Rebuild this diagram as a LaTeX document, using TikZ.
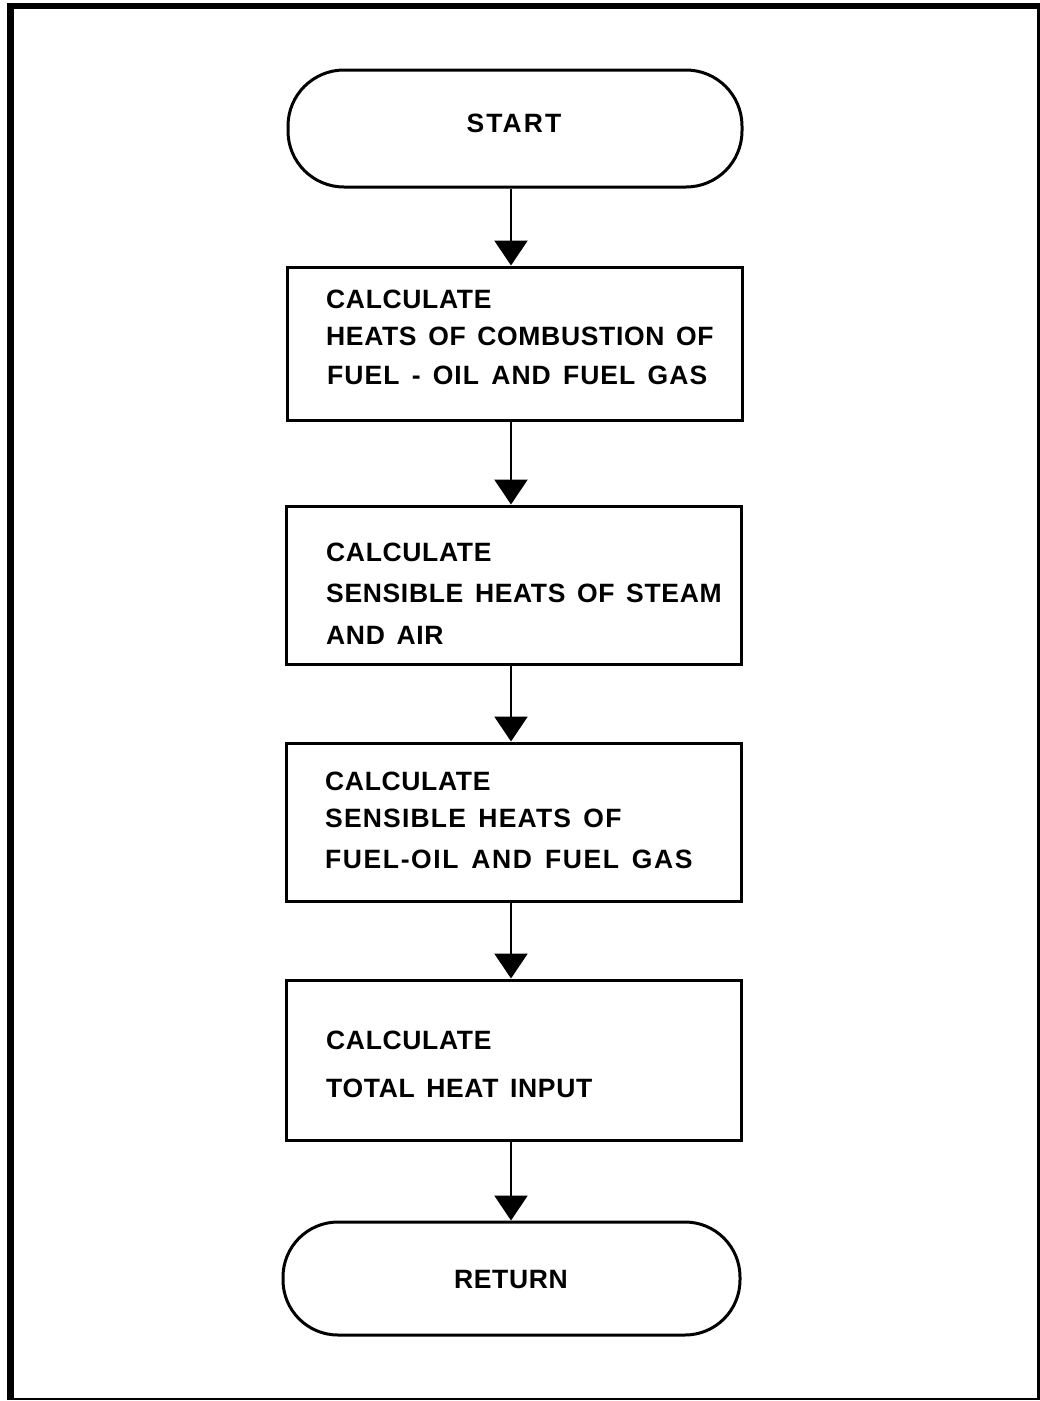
\documentclass[tikz,border=0pt]{standalone}
\usepackage{fontspec}
\setmainfont{Liberation Sans}[WordSpace=1.45,LetterSpace=2.5]
\usetikzlibrary{arrows.meta}
\begin{document}
\begin{tikzpicture}[x=1pt,y=-1pt,
  frame/.style={line width=#1, black},
  procbox/.style={draw, line width=3pt, rectangle, inner sep=0pt, minimum width=455pt},
  term/.style={draw, line width=3pt, rectangle, inner sep=0pt, rounded corners=56pt},
  lbl/.style={anchor=base west, inner sep=0pt, font=\fontsize{26.5}{30}\selectfont\bfseries},
  clbl/.style={anchor=base, inner sep=0pt, font=\fontsize{26.5}{30}\selectfont\bfseries},
  arr/.style={line width=2.6pt, -{Triangle[width=33pt,length=25pt]}}]
\useasboundingbox (0,0) rectangle (1040,1401);
\fill[white] (0,0) rectangle (1040,1401);
% outer frame
\draw[frame=7pt] (10.5,3) -- (10.5,1400);
\draw[frame=6pt] (7,6) -- (1040,6);
\draw[frame=2.5pt] (1038.5,6) -- (1038.5,1400);
\draw[frame=1.6pt] (10.5,1399.2) -- (1040,1399.2);
% nodes
\node[term, minimum width=454pt, minimum height=117pt] (start) at (515,128.5) {};
\node[procbox, minimum height=153pt] (b1) at (514.5,343.5) {};
\node[procbox, minimum height=158pt] (b2) at (513.5,585) {};
\node[procbox, minimum height=158pt] (b3) at (513.5,822) {};
\node[procbox, minimum height=160pt] (b4) at (513.5,1060) {};
\node[term, minimum width=457pt, minimum height=113pt, rounded corners=55pt] (ret) at (511.5,1278.5) {};
% texts
\node[clbl] (tstart) at (514,132) {\addfontfeature{LetterSpace=8}START};
\node[lbl] (t1a) at (326,308) {CALCULATE};
\node[lbl] (t1b) at (326,345) {HEATS OF COMBUSTION OF};
\node[lbl] (t1c) at (327,384) {\addfontfeature{LetterSpace=4}FUEL - OIL AND FUEL GAS};
\node[lbl] (t2a) at (326,561) {CALCULATE};
\node[lbl] (t2b) at (326,602) {SENSIBLE HEATS OF STEAM};
\node[lbl] (t2c) at (326,644) {AND AIR};
\node[lbl] (t3a) at (325,790) {CALCULATE};
\node[lbl] (t3b) at (325,827) {\addfontfeature{LetterSpace=4.5}SENSIBLE HEATS OF};
\node[lbl] (t3c) at (325,868) {\addfontfeature{LetterSpace=6}FUEL-OIL AND FUEL GAS};
\node[lbl] (t4a) at (326,1049) {CALCULATE};
\node[lbl] (t4b) at (326,1097) {TOTAL HEAT INPUT};
\node[clbl] (tret) at (511,1288) {RETURN};
% connectors
\coordinate (ax) at (511,0);
\draw[arr] (start.south -| ax) -- (b1.north -| ax);
\draw[arr] (b1.south -| ax) -- (b2.north -| ax);
\draw[arr] (b2.south -| ax) -- (b3.north -| ax);
\draw[arr] (b3.south -| ax) -- (b4.north -| ax);
\draw[arr] (b4.south -| ax) -- (ret.north -| ax);
\end{tikzpicture}
\end{document}
